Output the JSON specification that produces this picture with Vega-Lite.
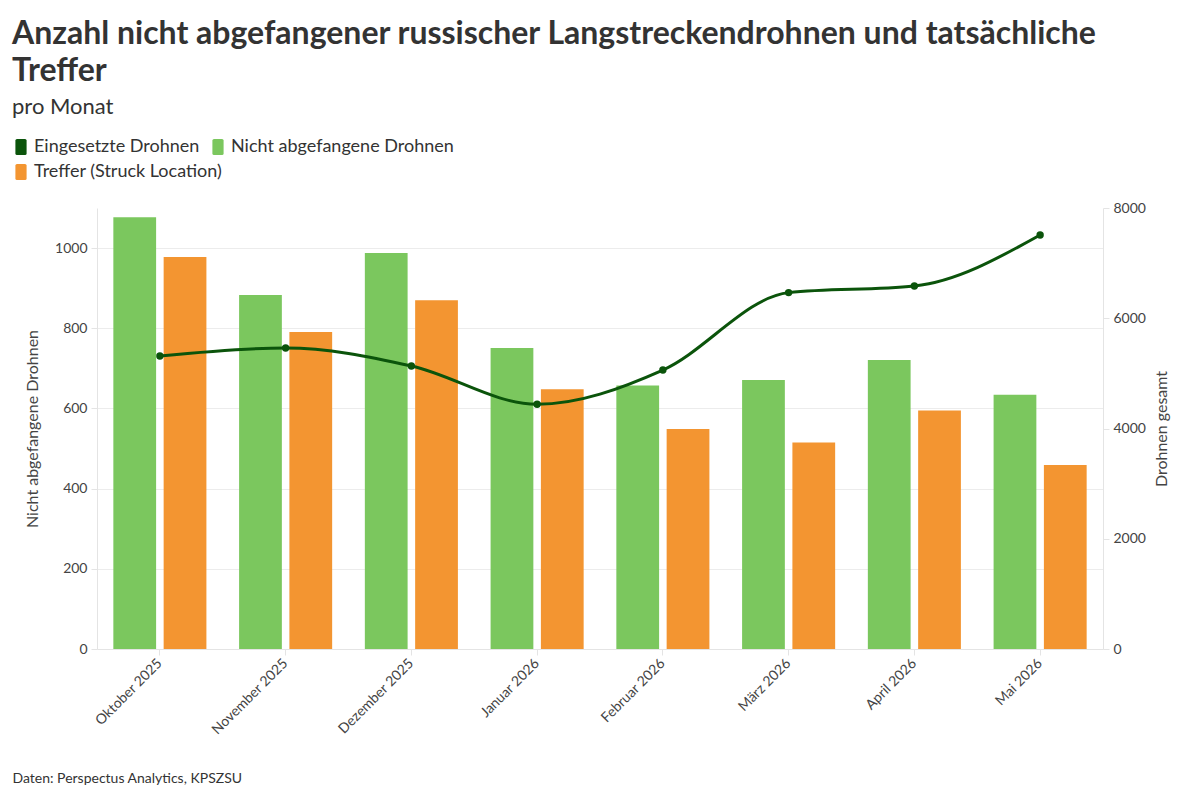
{
  "$schema": "https://vega.github.io/schema/vega-lite/v6.json",
  "width": 1006,
  "height": 441,
  "autosize": {"type": "none"},
  "padding": {"left": 97, "top": 208, "right": 97, "bottom": 151},
  "background": "white",
  "config": {
    "font": "Lato",
    "view": {"stroke": null},
    "axis": {"labelFont": "Lato", "titleFont": "Lato", "labelColor": "#444", "titleColor": "#444", "labelFontSize": 14, "titleFontSize": 16, "titleFontWeight": "normal", "domainColor": "#e4e4e4", "tickColor": "#e4e4e4", "gridColor": "#ececec"}
  },
  "title": {
    "text": ["Anzahl nicht abgefangener russischer Langstreckendrohnen und tatsächliche", "Treffer"],
    "subtitle": "pro Monat",
    "anchor": "start",
    "frame": "group",
    "dx": -85,
    "fontSize": 32,
    "fontWeight": "bold",
    "color": "#333333",
    "lineHeight": 37,
    "subtitleFontSize": 22,
    "subtitleColor": "#333",
    "subtitleFont": "Lato",
    "subtitlePadding": 9,
    "offset": 19
  },
  "datasets": {
    "bars": [
      {"monat": "Oktober 2025", "serie": "Nicht abgefangene Drohnen", "wert": 1077},
      {"monat": "Oktober 2025", "serie": "Treffer (Struck Location)", "wert": 978},
      {"monat": "November 2025", "serie": "Nicht abgefangene Drohnen", "wert": 883},
      {"monat": "November 2025", "serie": "Treffer (Struck Location)", "wert": 791},
      {"monat": "Dezember 2025", "serie": "Nicht abgefangene Drohnen", "wert": 988},
      {"monat": "Dezember 2025", "serie": "Treffer (Struck Location)", "wert": 870},
      {"monat": "Januar 2026", "serie": "Nicht abgefangene Drohnen", "wert": 751},
      {"monat": "Januar 2026", "serie": "Treffer (Struck Location)", "wert": 648},
      {"monat": "Februar 2026", "serie": "Nicht abgefangene Drohnen", "wert": 657},
      {"monat": "Februar 2026", "serie": "Treffer (Struck Location)", "wert": 549},
      {"monat": "März 2026", "serie": "Nicht abgefangene Drohnen", "wert": 671},
      {"monat": "März 2026", "serie": "Treffer (Struck Location)", "wert": 515},
      {"monat": "April 2026", "serie": "Nicht abgefangene Drohnen", "wert": 721},
      {"monat": "April 2026", "serie": "Treffer (Struck Location)", "wert": 595},
      {"monat": "Mai 2026", "serie": "Nicht abgefangene Drohnen", "wert": 634},
      {"monat": "Mai 2026", "serie": "Treffer (Struck Location)", "wert": 459}
    ],
    "linie": [
      {"monat": "Oktober 2025", "serie": "Eingesetzte Drohnen", "gesamt": 5315},
      {"monat": "November 2025", "serie": "Eingesetzte Drohnen", "gesamt": 5460},
      {"monat": "Dezember 2025", "serie": "Eingesetzte Drohnen", "gesamt": 5134},
      {"monat": "Januar 2026", "serie": "Eingesetzte Drohnen", "gesamt": 4440},
      {"monat": "Februar 2026", "serie": "Eingesetzte Drohnen", "gesamt": 5061},
      {"monat": "März 2026", "serie": "Eingesetzte Drohnen", "gesamt": 6465},
      {"monat": "April 2026", "serie": "Eingesetzte Drohnen", "gesamt": 6585},
      {"monat": "Mai 2026", "serie": "Eingesetzte Drohnen", "gesamt": 7510}
    ]
  },
  "encoding": {
    "x": {
      "field": "monat",
      "type": "nominal",
      "sort": ["Oktober 2025", "November 2025", "Dezember 2025", "Januar 2026", "Februar 2026", "März 2026", "April 2026", "Mai 2026"],
      "scale": {"paddingInner": 0.26, "paddingOuter": 0.13},
      "axis": {
        "title": "Daten: Perspectus Analytics, KPSZSU",
        "titleX": -85,
        "titleY": 122,
        "titleAlign": "left",
        "titleAnchor": "start",
        "titleFontSize": 14,
        "titleColor": "#333",
        "labelAngle": -45,
        "labelAlign": "right",
        "labelBaseline": "middle",
        "labelPadding": 6,
        "tickSize": 6,
        "domain": true
      }
    }
  },
  "layer": [
    {
      "data": {"name": "bars"},
      "mark": {"type": "bar"},
      "encoding": {
        "xOffset": {"field": "serie", "type": "nominal", "sort": ["Nicht abgefangene Drohnen", "Treffer (Struck Location)"], "scale": {"paddingInner": 0.15, "paddingOuter": 0}},
        "y": {
          "field": "wert",
          "type": "quantitative",
          "scale": {"domain": [0, 1100], "nice": false},
          "axis": {"title": "Nicht abgefangene Drohnen", "format": "d", "values": [0, 200, 400, 600, 800, 1000], "grid": true, "tickSize": 6, "labelPadding": 4, "titlePadding": 14, "domain": true}
        },
        "color": {
          "field": "serie",
          "type": "nominal",
          "scale": {"domain": ["Eingesetzte Drohnen", "Nicht abgefangene Drohnen", "Treffer (Struck Location)"], "range": ["#0b540b", "#7bc75e", "#f39531"]},
          "legend": {
            "title": null,
            "orient": "none",
            "legendX": -85,
            "legendY": -70,
            "columns": 2,
            "gridAlign": "none",
            "direction": "horizontal",
            "labelFont": "Lato",
            "labelFontSize": 18,
            "labelColor": "#333",
            "labelLimit": 400,
            "symbolType": "M-0.5,-1H0.5Q0.7,-1,0.7,-0.8V0.8Q0.7,1,0.5,1H-0.5Q-0.7,1,-0.7,0.8V-0.8Q-0.7,-1,-0.5,-1Z",
            "symbolSize": 256,
            "symbolStrokeWidth": 0,
            "symbolOpacity": 1,
            "columnPadding": -14,
            "rowPadding": 7,
            "labelOffset": 4
          }
        }
      }
    },
    {
      "data": {"name": "linie"},
      "mark": {"type": "line", "interpolate": "monotone", "strokeWidth": 3, "color": "#0b540b", "point": {"filled": true, "size": 55, "color": "#0b540b"}},
      "encoding": {
        "y": {
          "field": "gesamt",
          "type": "quantitative",
          "scale": {"domain": [0, 8000], "nice": false},
          "axis": {"title": "Drohnen gesamt", "format": "d", "orient": "right", "titleAngle": 270, "values": [0, 2000, 4000, 6000, 8000], "grid": false, "tickSize": 6, "labelPadding": 4, "titlePadding": 24, "domain": true}
        }
      }
    }
  ],
  "resolve": {"scale": {"y": "independent"}}
}
